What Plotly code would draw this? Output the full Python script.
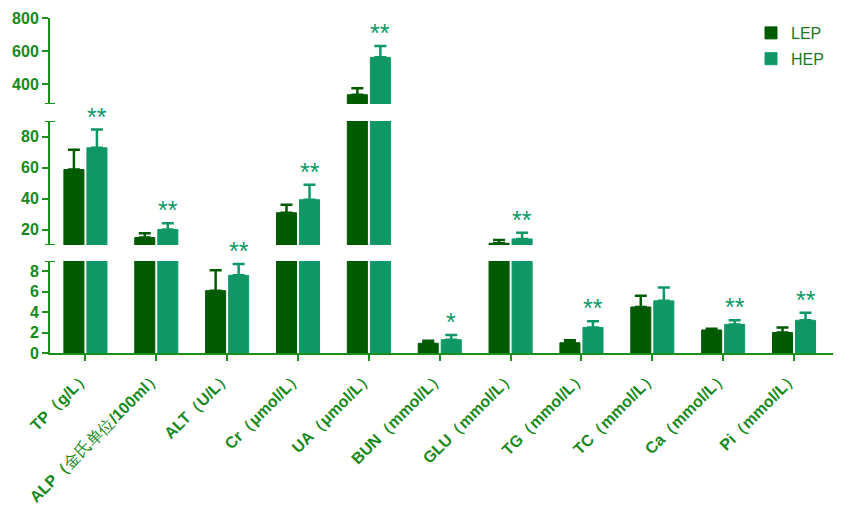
import plotly.graph_objects as go

categories = ["TP（g/L）", "ALP（金氏单位/100ml）", "ALT（U/L）", "Cr（μmol/L）", "UA（μmol/L）",
              "BUN（mmol/L）", "GLU（mmol/L）", "TG（mmol/L）", "TC（mmol/L）", "Ca（mmol/L）", "Pi（mmol/L）"]
tick_text = ["TP（g/L）", "ALP（<span style='font-weight:normal'>金氏单位</span>/100ml）", "ALT（U/L）",
             "Cr（μmol/L）", "UA（μmol/L）", "BUN（mmol/L）", "GLU（mmol/L）", "TG（mmol/L）",
             "TC（mmol/L）", "Ca（mmol/L）", "Pi（mmol/L）"]
lep_mean = [58.7, 14.8, 6.1, 30.8, 336, 0.95, 11.1, 1.0, 4.5, 2.25, 2.0]
lep_sd = [12.7, 2.8, 2.0, 5.1, 39, 0.25, 2.1, 0.25, 1.1, 0.12, 0.5]
hep_mean = [72.7, 20.0, 7.6, 39.2, 562, 1.3, 13.9, 2.5, 5.1, 2.8, 3.2]
hep_sd = [11.8, 4.0, 1.1, 9.6, 68, 0.45, 4.0, 0.6, 1.3, 0.4, 0.75]
significance = ["**", "**", "**", "**", "**", "*", "**", "**", "", "**", "**"]

# broken axis segments: (axis name, range, ticks)
segments = [("y", [0, 9], [0, 2, 4, 6, 8]),
            ("y2", [10, 90], [20, 40, 60, 80]),
            ("y3", [280, 800], [400, 600, 800])]
domains = [[0.0, 0.2746], [0.3224, 0.6925], [0.7433, 1.0]]

LEP_C = "#005a00"
HEP_C = "#0f9866"
AX_C = "#1b8f1b"
TXT_C = "#17891a"

# page body adds an 8px offset; size the figure to fit the 850x509 window
W, H = 842, 501
ML, MR, MT, MB = 42, 17, 10, 156
PW = W - ML - MR

fig = go.Figure()
for i, (yname, rng, tv) in enumerate(segments):
    for name, mean, sd, col in (("LEP", lep_mean, lep_sd, LEP_C), ("HEP", hep_mean, hep_sd, HEP_C)):
        fig.add_trace(go.Bar(
            x=categories, y=mean, name=name, yaxis=yname, xaxis="x",
            marker=dict(color=col, line=dict(color=col, width=1)),
            offsetgroup=name, legendgroup=name, showlegend=(i == 0),
            error_y=dict(type="data", symmetric=False, array=sd, arrayminus=[0] * len(sd),
                         color=col, thickness=2.5, width=6),
        ))

layout_axes = {}
for i, (yname, rng, tv) in enumerate(segments):
    key = "yaxis" if yname == "y" else "yaxis" + yname[1:]
    layout_axes[key] = dict(
        domain=domains[i], range=rng, tickvals=tv, anchor="x", automargin=False,
        ticklabeloverflow="allow",
        showline=True, linecolor=AX_C, linewidth=2, ticks="outside", ticklen=6,
        tickwidth=2, tickcolor=AX_C, showgrid=False, zeroline=False,
        tickfont=dict(family="Liberation Sans, Arial", size=16, color=TXT_C, weight="bold"),
    )

fig.update_layout(
    width=W, height=H, margin=dict(l=ML, r=MR, t=MT, b=MB, autoexpand=False),
    paper_bgcolor="white", plot_bgcolor="white",
    barmode="group", bargap=0.35, bargroupgap=0.13,
    xaxis=dict(type="category", range=[-0.5, 10.55], anchor="y", automargin=False,
               ticklabeloverflow="allow",
               tickvals=categories, ticktext=tick_text, tickangle=-45,
               showline=True, linecolor=AX_C, linewidth=2, ticks="outside", ticklen=6,
               tickwidth=2, tickcolor=AX_C, showgrid=False, zeroline=False,
               tickfont=dict(family="Liberation Sans, Arial", size=16, color=TXT_C, weight="bold")),
    legend=dict(x=(751 - 50) / PW, y=1.006, xanchor="left", yanchor="top",
                font=dict(family="Liberation Sans, Arial", size=16, color="#1a7a22"),
                bgcolor="rgba(0,0,0,0)", tracegroupgap=2),
    showlegend=True,
    **layout_axes,
)

# break caps at the ends of axis segments
caps = [("y", 9), ("y2", 10), ("y2", 90), ("y3", 280)]
for yref, val in caps:
    fig.add_shape(type="line", xref="paper", yref=yref, x0=-5 / PW, x1=5 / PW, y0=val, y1=val,
                  line=dict(color=AX_C, width=2))

# significance marks
for cat, m, s, sig in zip(categories, hep_mean, hep_sd, significance):
    if not sig:
        continue
    top = m + s
    yref = "y" if top <= 9 else ("y2" if top <= 90 else "y3")
    fig.add_annotation(x=cat, y=top, xref="x", yref=yref, text=sig, showarrow=False,
                       xshift=11.5, yanchor="bottom", yshift=-3,
                       font=dict(family="Liberation Sans, Arial", size=25, color=HEP_C))

fig.write_html("out.html")
